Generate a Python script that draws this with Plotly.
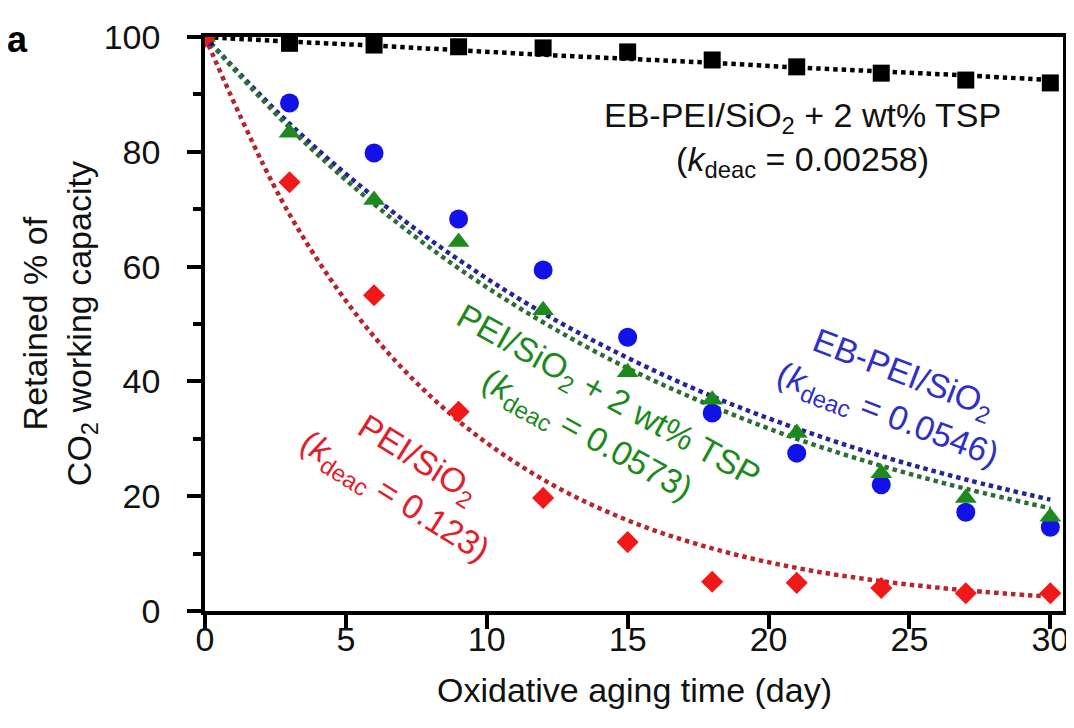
import plotly.graph_objects as go

# ---- data ----
days = [0, 3, 6, 9, 12, 15, 18, 21, 24, 27, 30]

eb_tsp = [100, 98.9, 98.6, 98.3, 98.1, 97.4, 96.0, 94.8, 93.7, 92.5, 92.0]
eb_pei = [100, 88.5, 79.8, 68.3, 59.4, 47.7, 34.5, 27.5, 22.0, 17.2, 14.6]
pei_tsp = [100, 83.3, 71.6, 64.3, 52.4, 41.6, 36.8, 31.0, 24.0, 19.7, 16.4]
pei = [100, 74.7, 55.0, 34.7, 19.7, 12.0, 5.1, 4.9, 4.0, 3.1, 3.1]

# fitted curves
eb_tsp_fit = [100, 99.2, 98.5, 97.7, 96.9, 96.2, 95.5, 94.7, 94.0, 93.3, 92.5]
eb_pei_fit = [100, 84.9, 72.1, 61.2, 51.9, 44.1, 37.4, 31.8, 27.0, 22.9, 19.4]
pei_tsp_fit = [100, 84.2, 70.9, 59.7, 50.3, 42.3, 35.7, 30.0, 25.3, 21.3, 17.9]
pei_fit = [100, 69.1, 47.8, 33.1, 22.9, 15.8, 10.9, 7.5, 5.2, 3.6, 2.5]

x_ticks = [0, 5, 10, 15, 20, 25, 30]
y_ticks = [0, 20, 40, 60, 80, 100]

FONT = "Liberation Sans, Arial, Helvetica, sans-serif"
FS = 34

fig = go.Figure()

lines = [
    (eb_tsp_fit, "#000000"),
    (eb_pei_fit, "#25259a"),
    (pei_tsp_fit, "#2d6e38"),
    (pei_fit, "#b5262e"),
]
for ys, col in lines:
    fig.add_trace(go.Scatter(
        x=days, y=ys, mode="lines", line_shape="spline",
        line=dict(color=col, width=4.5, dash="4.5px,4px"),
        showlegend=False, hoverinfo="skip"))

markers = [
    (eb_tsp, "square", 17, "#000000"),
    (eb_pei, "circle", 19, "#1212e8"),
    (pei_tsp, "triangle-up", 19, "#1e8a1e"),
    (pei, "diamond", 17, "#f01818"),
]
for ys, sym, sz, col in markers:
    fig.add_trace(go.Scatter(
        x=days, y=ys, mode="markers",
        marker=dict(symbol=sym, size=sz, color=col, line=dict(width=0)),
        showlegend=False))

ann = [
    dict(text="EB-PEI/SiO<sub>2</sub> + 2 wt% TSP<br>(<i>k</i><sub>deac</sub> = 0.00258)",
         x=21.2, y=82.2, textangle=0, color="#111111"),
    dict(text="EB-PEI/SiO<sub>2</sub><br>(<i>k</i><sub>deac</sub> = 0.0546)",
         x=24.5, y=37.5, textangle=21, color="#3030c4"),
    dict(text="PEI/SiO<sub>2</sub> + 2 wt% TSP<br>(<i>k</i><sub>deac</sub> = 0.0573)",
         x=13.9, y=33.9, textangle=29, color="#1e8a1e"),
    dict(text="PEI/SiO<sub>2</sub><br>(<i>k</i><sub>deac</sub> = 0.123)",
         x=7.1, y=23.0, textangle=32, color="#e0202a"),
]
for a in ann:
    fig.add_annotation(x=a["x"], y=a["y"], xref="x", yref="y", text=a["text"],
                       textangle=a["textangle"], showarrow=False,
                       xanchor="center", yanchor="middle", align="center",
                       font=dict(family=FONT, size=FS, color=a["color"]))

# axis titles and panel label
fig.add_annotation(x=0.5, y=-0.1376, xref="paper", yref="paper",
                   text="Oxidative aging time (day)", showarrow=False,
                   xanchor="center", yanchor="middle",
                   font=dict(family=FONT, size=FS, color="#111111"))
fig.add_annotation(x=-0.17, y=0.5, xref="paper", yref="paper",
                   text="Retained % of<br>CO<sub>2</sub> working capacity",
                   textangle=-90, showarrow=False,
                   xanchor="center", yanchor="middle", align="center",
                   font=dict(family=FONT, size=FS, color="#111111"))
fig.add_annotation(x=-0.218, y=0.995, xref="paper", yref="paper",
                   text="<b>a</b>", showarrow=False,
                   xanchor="center", yanchor="middle",
                   font=dict(family=FONT, size=36, color="#000000"))

axis_common = dict(
    showline=True, linewidth=3.5, linecolor="#000000", mirror=True,
    ticks="outside", ticklen=14, tickwidth=3.5, tickcolor="#000000",
    showgrid=False, zeroline=False, automargin=False,
    tickfont=dict(family=FONT, size=FS, color="#111111"),
)

fig.update_xaxes(range=[0, 30.45], tickvals=x_ticks, ticklabelstandoff=-19,
                 **axis_common)
fig.update_yaxes(range=[0, 100], tickvals=y_ticks, ticklabelstandoff=20,
                 minor=dict(dtick=10, ticks="outside", ticklen=8, tickwidth=3.5,
                            tickcolor="#000000", showgrid=False),
                 **axis_common)

# plot area lands at x 205..1063, y 37..611 in the window
fig.update_layout(
    width=1066, height=720,
    margin=dict(l=197, r=11, t=29, b=117),
    paper_bgcolor="white", plot_bgcolor="white",
    showlegend=False,
)

fig.write_html("out.html")
